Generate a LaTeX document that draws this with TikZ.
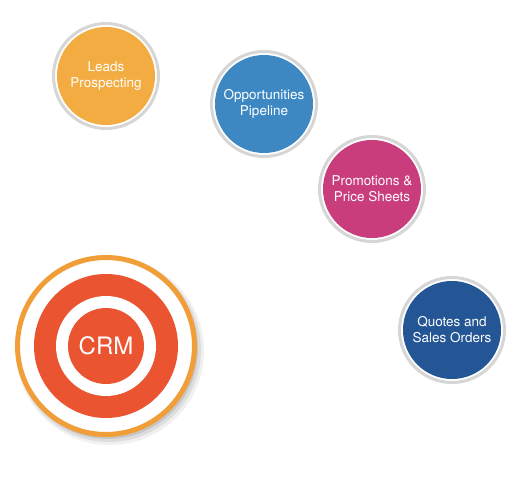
\documentclass[tikz,border=0pt]{standalone}
\usepackage{fontspec}
\setmainfont{TeX Gyre Heros}
\definecolor{leadsc}{HTML}{F2AC42}
\definecolor{oppc}{HTML}{3D88C3}
\definecolor{promc}{HTML}{C93D7C}
\definecolor{quotc}{HTML}{245594}
\definecolor{crmred}{HTML}{EA5430}
\definecolor{crmorange}{HTML}{F19E38}
\definecolor{ringgray}{HTML}{D6D6D6}
\tikzset{
  ringc/.style={circle, draw=ringgray, line width=3pt, fill=white, minimum size=105pt, inner sep=0pt},
  bubble/.style={circle, minimum size=98pt, inner sep=0pt, text=white, align=center, font=\fontsize{13.5}{16}\selectfont},
  shadowc/.style={circle, fill=black, inner sep=0pt},
}
\begin{document}
\begin{tikzpicture}[x=1pt,y=-1pt]
\useasboundingbox (0,0) rectangle (525,492);
% Leads
\node[ringc] (r1) at (106,76) {};
\node[bubble, fill=leadsc] (leads) at (106,76) {Leads\\Prospecting};
% Opportunities
\node[ringc] (r2) at (264,104) {};
\node[bubble, fill=oppc] (opp) at (264,104) {Opportunities\\Pipeline};
% Promotions
\node[ringc] (r3) at (372,189) {};
\node[bubble, fill=promc] (prom) at (372,189) {Promotions \&\\Price Sheets};
% Quotes
\node[ringc] (r4) at (452,330) {};
\node[bubble, fill=quotc] (quot) at (452,330) {Quotes and\\Sales Orders};
% CRM target shadow
\node[shadowc, opacity=0.06, minimum size=188pt] (sh1) at (110,351) {};
\node[shadowc, opacity=0.08, minimum size=184pt] (sh2) at (109,350) {};
\node[shadowc, opacity=0.10, minimum size=180pt] (sh3) at (108,349) {};
% CRM target
\node[circle, draw=crmorange, line width=5pt, fill=white, minimum size=177pt, inner sep=0pt] (crmouter) at (106,346) {};
\node[circle, fill=crmred, minimum size=144pt, inner sep=0pt] (crmred) at (crmouter) {};
\node[circle, fill=white, minimum size=100pt, inner sep=0pt] (crmwhite) at (crmouter) {};
\node[circle, fill=crmred, minimum size=76pt, inner sep=0pt, text=white, font=\fontsize{24}{28}\selectfont] (crm) at (crmouter) {CRM};
\end{tikzpicture}
\end{document}
